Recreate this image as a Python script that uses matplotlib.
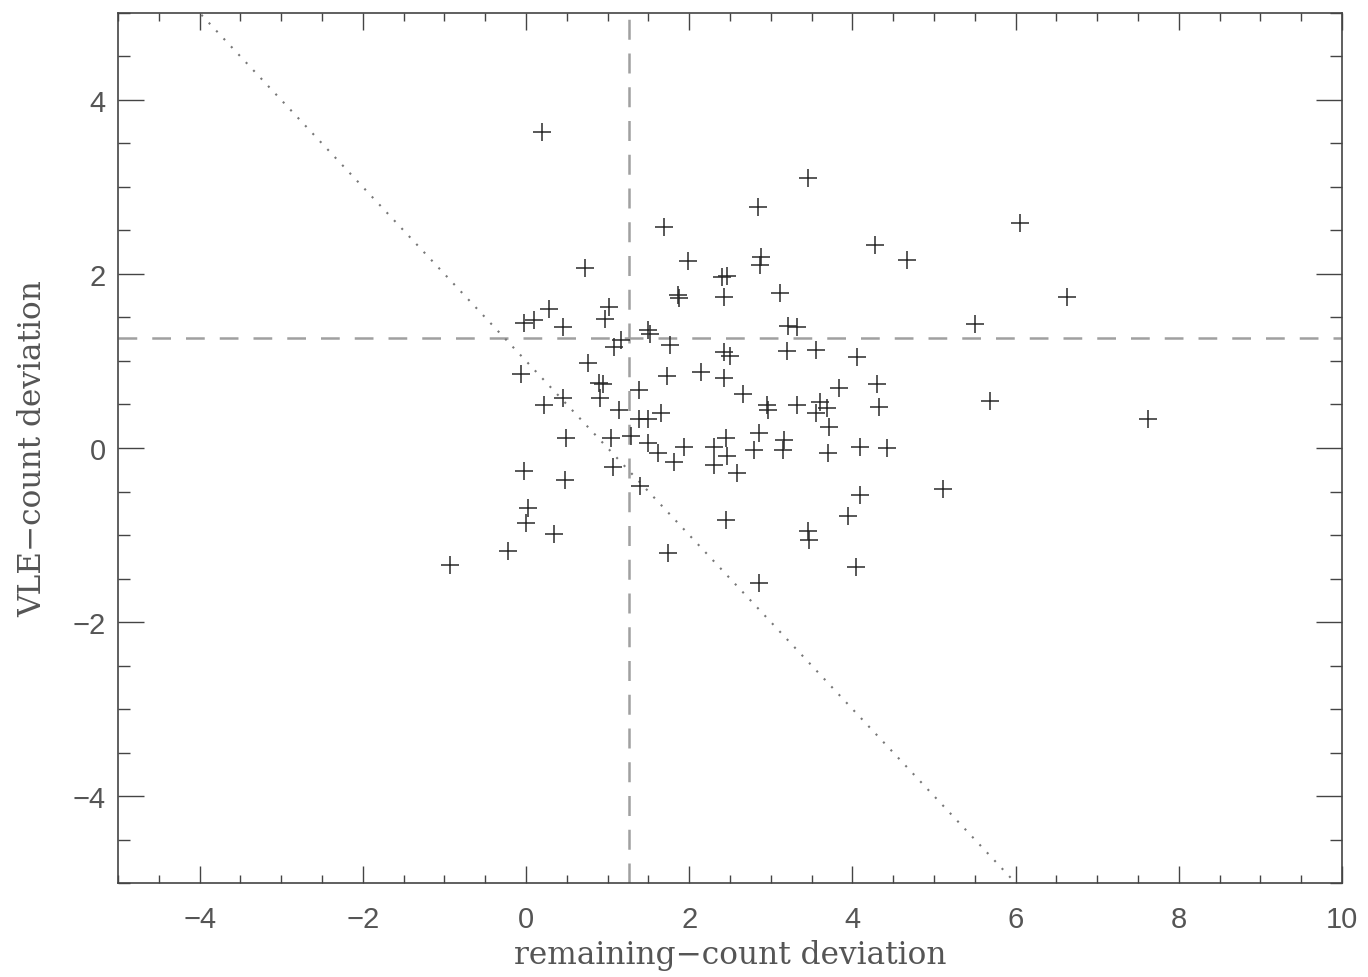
import numpy as np
import matplotlib.pyplot as plt
from matplotlib.ticker import MultipleLocator

# remaining-count deviation (x) and VLE-count deviation (y)
rc_dev = [0.20, 3.46, 2.84, 1.69, 6.05, 4.28, 1.99, 4.67, 0.72, 2.40,
          2.46, 2.88, 2.87, 1.86, 1.88, 2.43, 3.11, 6.63, -0.02, 0.10,
          0.28, 0.45, 1.02, 0.97, 1.50, 1.52, 3.21, 3.32, 5.50, 1.16,
          1.08, 1.76, 2.43, 2.50, 3.20, 3.55, 4.06, 0.76, 2.14, 1.73,
          -0.06, 0.90, 0.94, 2.43, 1.38, 3.84, 4.30, 2.66, 0.91, 0.45,
          5.69, 0.22, 1.14, 2.95, 2.97, 3.32, 3.60, 3.69, 3.55, 4.33,
          1.65, 1.38, 1.50, 3.71, 7.62, 0.49, 1.04, 1.29, 1.50, 1.62,
          1.94, 2.45, 2.30, 2.46, 2.30, 2.59, 2.86, 2.79, 3.16, 3.15,
          3.70, 4.09, 4.42, 1.81, 1.07, -0.02, 0.48, 1.40, 5.11, 4.09,
          0.02, 0.00, 3.95, 2.45, 3.46, 3.47, 0.34, -0.22, 1.74, 4.04,
          -0.93, 2.86]
vle_dev = [3.63, 3.10, 2.77, 2.54, 2.59, 2.33, 2.15, 2.16, 2.07, 1.96,
           1.98, 2.20, 2.10, 1.76, 1.72, 1.74, 1.78, 1.74, 1.44, 1.47,
           1.60, 1.39, 1.62, 1.48, 1.36, 1.31, 1.40, 1.39, 1.43, 1.24,
           1.16, 1.18, 1.10, 1.06, 1.11, 1.13, 1.05, 0.98, 0.87, 0.83,
           0.85, 0.75, 0.74, 0.80, 0.67, 0.69, 0.74, 0.62, 0.57, 0.57,
           0.54, 0.49, 0.44, 0.49, 0.44, 0.49, 0.53, 0.46, 0.40, 0.47,
           0.40, 0.33, 0.33, 0.24, 0.33, 0.11, 0.11, 0.14, 0.06, -0.06,
           0.01, 0.11, 0.01, -0.09, -0.20, -0.29, 0.17, -0.02, 0.09, -0.02,
           -0.06, 0.01, 0.00, -0.16, -0.22, -0.26, -0.37, -0.44, -0.47, -0.54,
           -0.69, -0.86, -0.78, -0.83, -0.95, -1.06, -0.99, -1.18, -1.21, -1.37,
           -1.34, -1.55]

x_mean = 1.26
y_mean = 1.26
diag_c = 1.0   # dotted line: y = -x + c

fig = plt.figure(figsize=(13.68, 9.78), dpi=100)
ax = fig.add_axes([0.0863, 0.0961, 0.8947, 0.8896])

ax.plot(rc_dev, vle_dev, linestyle='none', marker='+', markersize=13,
        markeredgewidth=1.1, color='#2a2a2a', zorder=3)

ax.axvline(x_mean, color='#a0a0a0', linewidth=1.8, linestyle=(0, (8, 5.5)), zorder=2)
ax.axhline(y_mean, color='#a0a0a0', linewidth=1.8, linestyle=(0, (7.5, 6)), zorder=2)
xs = np.array([-5.0, 10.0])
ax.plot(xs, -xs + diag_c, color='#777777', linewidth=1.5,
        linestyle=(0, (1, 4.2)), zorder=2)

ax.set_xlim(-5, 10)
ax.set_ylim(-5, 5)
ax.xaxis.set_major_locator(MultipleLocator(2))
ax.xaxis.set_minor_locator(MultipleLocator(0.5))
ax.yaxis.set_major_locator(MultipleLocator(2))
ax.yaxis.set_minor_locator(MultipleLocator(0.5))

ax.tick_params(axis='both', which='both', direction='in', top=True, right=True,
               color='#444444', width=1.0, labelcolor='#555555', labelsize=21)
ax.tick_params(axis='x', which='major', length=12, pad=16)
ax.tick_params(axis='x', which='minor', length=5.5)
ax.tick_params(axis='y', which='major', length=18.5, pad=9)
ax.tick_params(axis='y', which='minor', length=8.5)
for lab in ax.get_xticklabels() + ax.get_yticklabels():
    lab.set_family('Liberation Sans')
for sp in ax.spines.values():
    sp.set_color('#444444')
    sp.set_linewidth(1.2)

ax.set_xlabel('remaining\u2212count deviation', family='DejaVu Serif', fontsize=22.5,
              color='#555555', labelpad=4)
ax.set_ylabel('VLE\u2212count deviation', family='DejaVu Serif', fontsize=22.5,
              color='#555555', labelpad=17)

fig.savefig('out.png', dpi=100, facecolor='white')
